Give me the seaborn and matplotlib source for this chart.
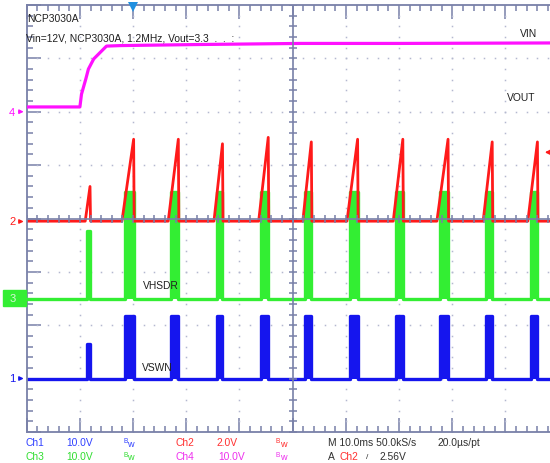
import numpy as np
import pandas as pd
import matplotlib
matplotlib.use("Agg")
import matplotlib.pyplot as plt
import matplotlib.patches as mpatches
import seaborn as sns

# ---------------- data (time in ms, 10 ms/div; volts) ----------------
# Ch4 (VIN), 10 V/div
vin_t = [-52, -40.0, -39.7, -38.9, -38.4, -37.4, -36.5, -35.5, -35.0, -32.3, -17.3, 1.5, 20.3, 52]
vin_v = [0.9, 0.9, 3.3, 6.1, 8.0, 9.9, 10.8, 11.8, 12.3, 12.4, 12.6, 12.8, 12.8, 12.9]

# switching bursts (ms)
burst_start = [-38.7, -31.6, -22.9, -14.3, -5.9, 2.4, 10.7, 19.4, 27.6, 36.3, 44.7]
burst_end = [-38.1, -29.9, -21.5, -13.2, -4.6, 3.5, 12.2, 20.7, 29.2, 37.5, 46.0]

# Ch2 (red), 2 V/div: ramp start and peak value
red_rise = [-39.0, -32.1, -23.4, -14.8, -6.4, 1.9, 10.2, 18.9, 27.1, 35.8, 44.2]
red_peak = [1.3, 3.07, 3.07, 2.9, 3.14, 2.97, 3.07, 3.07, 3.07, 2.97, 2.97]

# Ch3 (VHSDR), 10 V/div
hsdr_level = [12.7, 20.0, 20.0, 20.0, 20.0, 20.0, 20.0, 20.0, 20.0, 20.0, 20.0]
# Ch1 (VSWN), 10 V/div
swn_level = [6.45, 11.7, 11.7, 11.7, 11.7, 11.7, 11.7, 11.7, 11.7, 11.7, 11.7]

# channel settings: volts/div and ground position (div)
ch_scale = {"ch1": 10.0, "ch2": 2.0, "ch3": 10.0, "ch4": 10.0}
ch_offset = {"ch1": -3.0, "ch2": -0.05, "ch3": -1.5, "ch4": 2.0}

# ---------------- build traces ----------------
def block_trace(levels, starts, ends):
    t, v = [-52.0], [0.0]
    for s, e, l in zip(starts, ends, levels):
        t += [s, s, e, e]
        v += [0.0, l, l, 0.0]
    t.append(52.0); v.append(0.0)
    return np.array(t), np.array(v)

def ramp_trace(rises, ends, peaks):
    t, v = [-52.0], [0.0]
    for r, e, p in zip(rises, ends, peaks):
        t += [r, e, e + 0.1]
        v += [0.0, p, 0.0]
    t.append(52.0); v.append(0.0)
    return np.array(t), np.array(v)

def to_div(t, v, ch):
    return np.asarray(t) / 10.0, ch_offset[ch] + np.asarray(v) / ch_scale[ch]

W, H = 550, 464
sns.set_style("white")
plt.rcParams["font.family"] = ["Liberation Sans", "DejaVu Sans"]

fig = plt.figure(figsize=(W / 100, H / 100), dpi=100)
ax = fig.add_axes([26.7 / W, 1 - 433 / H, 532 / W, 427 / H])
ax.set_xlim(-5, 5)
ax.set_ylim(-4, 4)

RED, GREEN, BLUE, MAG = "#ff1a1a", "#33ee33", "#1515ee", "#ff10ff"
GRAT = "#7880a8"

# graticule dots
minor = np.round(np.arange(-5, 5.01, 0.2), 2)
minor_y = np.round(np.arange(-4, 4.01, 0.2), 2)
for xi in range(-4, 5):
    if xi == 0:
        continue
    ax.plot(np.full_like(minor_y, xi), minor_y, ls="none", marker="s", ms=1.1,
            mew=0, color="#b4b8d0", zorder=1)
for yi in range(-3, 4):
    if yi == 0:
        continue
    ax.plot(minor, np.full_like(minor, yi), ls="none", marker="s", ms=1.1,
            mew=0, color="#b4b8d0", zorder=1)

# traces
x4, y4 = to_div(vin_t, vin_v, "ch4")
t1, v1 = block_trace(swn_level, burst_start, burst_end)
x1, y1 = to_div(t1, v1, "ch1")
t3, v3 = block_trace(hsdr_level, burst_start, burst_end)
x3, y3 = to_div(t3, v3, "ch3")
t2, v2 = ramp_trace(red_rise, burst_end, red_peak)
x2, y2 = to_div(t2, v2, "ch2")

ax.fill_between(x1, ch_offset["ch1"], y1, color=BLUE, lw=0, zorder=2)
sns.lineplot(x=x1, y=y1, sort=False, estimator=None, color=BLUE, lw=2.4, ax=ax, zorder=2)
ax.fill_between(x3, ch_offset["ch3"], y3, color=GREEN, lw=0, zorder=3)
sns.lineplot(x=x3, y=y3, sort=False, estimator=None, color=GREEN, lw=2.4, ax=ax, zorder=3)
sns.lineplot(x=x4, y=y4, sort=False, estimator=None, color=MAG, lw=2.3, ax=ax, zorder=3)
sns.lineplot(x=x2, y=y2, sort=False, estimator=None, color=RED, lw=2.0, ax=ax, zorder=4)

# center cross with ticks
ax.axhline(0, color=GRAT, lw=1.2, zorder=6)
ax.axvline(0, color=GRAT, lw=1.2, zorder=6)
ax.plot(minor, np.zeros_like(minor), ls="none", marker="|", ms=6, mew=1.1, color=GRAT, zorder=6)
ax.plot(np.zeros_like(minor_y), minor_y, ls="none", marker="_", ms=6, mew=1.1, color=GRAT, zorder=6)

# border
for side in ["left", "bottom", "top"]:
    ax.spines[side].set_color(GRAT)
    ax.spines[side].set_linewidth(1.3)
ax.spines["right"].set_visible(False)
ax.set_xticks(np.arange(-5, 6, 1))
ax.set_yticks(np.arange(-4, 5, 1))
ax.set_xticks(minor, minor=True)
ax.set_yticks(minor_y, minor=True)
ax.tick_params(which="both", direction="in", top=True, bottom=True, left=True, right=False,
               labelbottom=False, labelleft=False, color=GRAT, width=1.1)
ax.tick_params(which="major", length=10)
ax.tick_params(which="minor", length=4.5)
ax.set_xlabel("")
ax.set_ylabel("")

# trigger markers
ax.plot([-3.0], [3.955], marker="v", ms=7, color="#2090e0", mew=0, clip_on=False, zorder=10)
ax.annotate("", xy=(542 / W, 1 - 153.3 / H), xytext=(553 / W, 1 - 153.3 / H),
            xycoords="figure fraction", textcoords="figure fraction",
            arrowprops=dict(arrowstyle="-|>", color=RED, lw=1.2, mutation_scale=7))

FS = 7.4

def ftxt(px, py, s, color="#202020", fs=FS, ha="left", **kw):
    fig.text(px / W, 1 - py / H, s, color=color, fontsize=fs, ha=ha, va="center", **kw)

def farrow(x0, x1, py, color):
    ax.annotate("", xy=(x1 / W, 1 - py / H), xytext=(x0 / W, 1 - py / H),
                xycoords="figure fraction", textcoords="figure fraction",
                arrowprops=dict(arrowstyle="-|>", color=color, lw=1.0, mutation_scale=6))

# channel ground markers
ftxt(12, 112.7, "4", MAG, fs=8, ha="center")
farrow(16, 26.5, 112.7, MAG)
ftxt(12.7, 222.5, "2", RED, fs=8, ha="center")
farrow(16.5, 26.5, 222.5, RED)
fig.patches.append(mpatches.Rectangle((2.7 / W, 1 - 306.5 / H), 23.5 / W, 16 / H,
                                      transform=fig.transFigure, color="#33ee33", zorder=0))
ftxt(12.7, 299.4, "3", "#d8f8d8", fs=8, ha="center")
farrow(16.5, 26.5, 299.4, "#e8ffe8")
ftxt(12.7, 379.5, "1", BLUE, fs=8, ha="center")
farrow(16.5, 26.5, 379.5, BLUE)

# annotations on screen
ftxt(27.5, 19.0, "NCP3030A")
ftxt(26.5, 38.3, "Vin=12V, NCP3030A, 1.2MHz, Vout=3.3  .  .  :")
ftxt(520, 34.3, "VIN")
ftxt(507, 98.3, "VOUT")
ftxt(142.7, 286, "VHSDR")
ftxt(141.7, 368.3, "VSWN")

# bottom status lines
C1, C2, C3, C4, DK = "#3040ff", "#ff3030", "#30dd30", "#ee30ee", "#303030"

def bw(px, py, color):
    ftxt(px, py - 1.6, "B", color, fs=4.8)
    ftxt(px + 3.6, py + 1.0, "w", color, fs=6.6)

ftxt(25, 443.3, "Ch1", C1); ftxt(66.7, 443.3, "10.0V", C1); bw(123.3, 443.3, C1)
ftxt(176, 443.3, "Ch2", C2); ftxt(216.7, 443.3, "2.0V", C2); bw(276, 443.3, C2)
ftxt(328.3, 443.3, "M 10.0ms 50.0kS/s", DK); ftxt(437.7, 443.3, "20.0\u00b5s/pt", DK)
ftxt(25, 456.7, "Ch3", C3); ftxt(66.7, 456.7, "10.0V", C3); bw(123.3, 456.7, C3)
ftxt(176, 456.7, "Ch4", C4); ftxt(218.3, 456.7, "10.0V", C4); bw(276, 456.7, C4)
ftxt(328.3, 456.7, "A", DK); ftxt(340, 456.7, "Ch2", C2)
ftxt(365.7, 457.5, "/", DK, fs=6); ftxt(380, 456.7, "2.56V", DK)

fig.savefig("out.png", dpi=100)
